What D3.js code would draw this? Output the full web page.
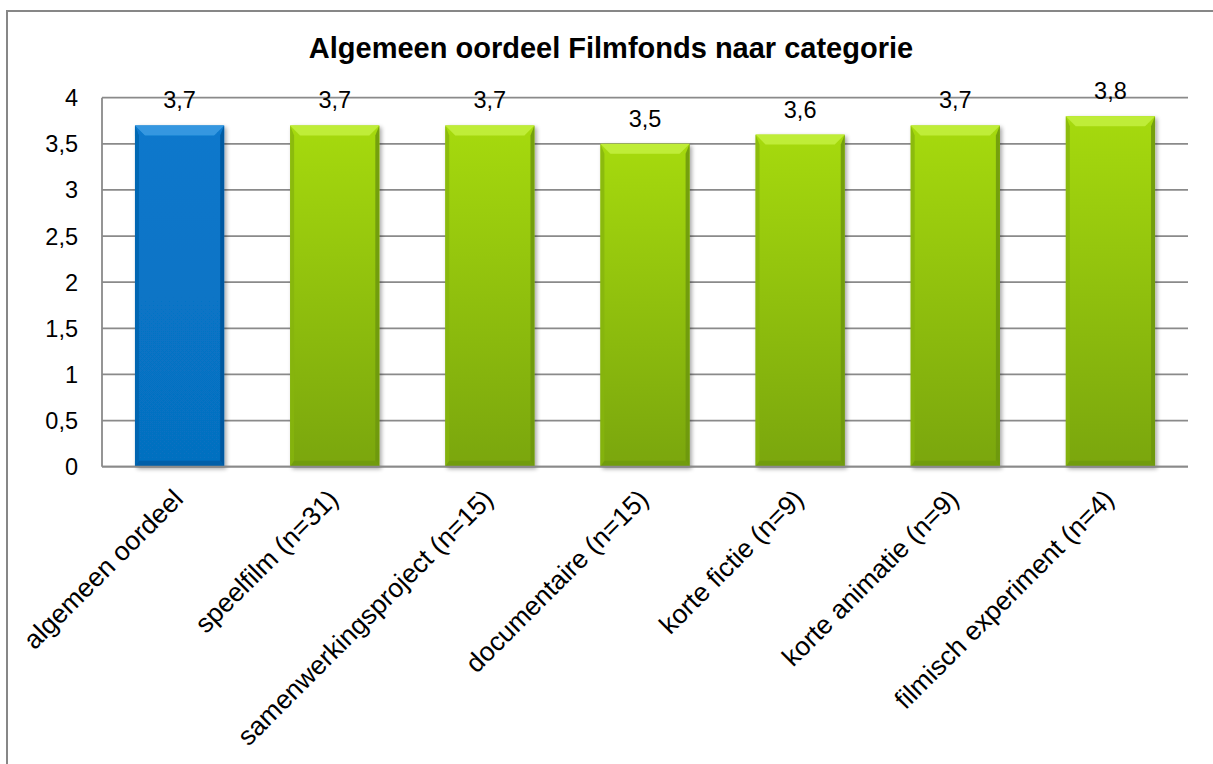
<!DOCTYPE html>
<html>
<head>
<meta charset="utf-8">
<script src="https://cdn.jsdelivr.net/npm/d3@7"></script>
<style>
  html, body { margin: 0; padding: 0; background: #fff; }
  svg { display: block; font-family: Arial, "Liberation Sans", sans-serif; }
</style>
</head>
<body>
<svg id="chart" width="1213" height="764"></svg>
<script>
const title = "Algemeen oordeel Filmfonds naar categorie";
const categories = [
  "algemeen oordeel",
  "speelfilm (n=31)",
  "samenwerkingsproject (n=15)",
  "documentaire (n=15)",
  "korte fictie (n=9)",
  "korte animatie (n=9)",
  "filmisch experiment (n=4)"
];
const values = [3.7, 3.7, 3.7, 3.5, 3.6, 3.7, 3.8];
const yTicks = [0, 0.5, 1, 1.5, 2, 2.5, 3, 3.5, 4];

const svg = d3.select("#chart");
const plot = { left: 102, right: 1188, top: 97.7, bottom: 466.7 };

// outer border
svg.append("rect").attr("x", 7).attr("y", 11).attr("width", 1300).attr("height", 900)
  .attr("fill", "#fff").attr("stroke", "#878787").attr("stroke-width", 2);

const defs = svg.append("defs");
function grad(id, top, bottom) {
  const g = defs.append("linearGradient").attr("id", id).attr("x1", 0).attr("y1", 0).attr("x2", 0).attr("y2", 1);
  g.append("stop").attr("offset", "0%").attr("stop-color", top);
  g.append("stop").attr("offset", "100%").attr("stop-color", bottom);
}
grad("gBlue", "#0878cc", "#0670c0");
grad("gGreen", "#a6da10", "#7aa60c");
const f = defs.append("filter").attr("id", "shadow").attr("x", "-20%").attr("y", "-10%").attr("width", "140%").attr("height", "120%");
f.append("feGaussianBlur").attr("in", "SourceAlpha").attr("stdDeviation", 2);
f.append("feOffset").attr("dx", 2).attr("dy", 2).attr("result", "b");
const ct = f.append("feComponentTransfer"); ct.append("feFuncA").attr("type", "linear").attr("slope", 0.35);
const fm = f.append("feMerge"); fm.append("feMergeNode"); fm.append("feMergeNode").attr("in", "SourceGraphic");

const x = d3.scaleBand().domain(categories).range([plot.left, plot.right]).paddingInner(0.425).paddingOuter(0.2125);
const y = d3.scaleLinear().domain([0, 4]).range([plot.bottom, plot.top]);

// gridlines
svg.append("g").selectAll("line").data(yTicks).join("line")
  .attr("x1", plot.left).attr("x2", plot.right)
  .attr("y1", d => y(d)).attr("y2", d => y(d))
  .attr("stroke", "#8a8a8a").attr("stroke-width", 1.8);

// y axis line
svg.append("line").attr("x1", plot.left).attr("x2", plot.left).attr("y1", plot.top).attr("y2", plot.bottom)
  .attr("stroke", "#8a8a8a").attr("stroke-width", 1.8);

// y tick labels
const fmt = d => String(d).replace(".", ",");
svg.append("g").selectAll("text").data(yTicks).join("text")
  .attr("x", 78).attr("y", d => y(d)).attr("dy", "0.36em")
  .attr("text-anchor", "end").attr("font-size", 23.5).attr("fill", "#000")
  .text(fmt);

// bars
const bars = svg.append("g").selectAll("g").data(categories).join("g").attr("filter", "url(#shadow)");
bars.each(function(c, i) {
  const g = d3.select(this);
  const bx = x(c), bw = x.bandwidth(), by = y(values[i]), bh = y(0) - y(values[i]);
  const blue = i === 0;
  const b = 10;
  g.append("rect").attr("x", bx).attr("y", by).attr("width", bw).attr("height", bh)
    .attr("fill", blue ? "url(#gBlue)" : "url(#gGreen)");
  g.append("polygon").attr("points", [[bx, by], [bx + bw, by], [bx + bw - b, by + b], [bx + b, by + b]].join(" "))
    .attr("fill", blue ? "#3a9ae2" : "#c2ee3c").attr("opacity", 0.9);
  g.append("polygon").attr("points", [[bx, by], [bx + b * 0.4, by + b], [bx + b * 0.4, by + bh - b * 0.6], [bx, by + bh]].join(" "))
    .attr("fill", blue ? "#0563ad" : "#86b40e").attr("opacity", 0.8);
  g.append("polygon").attr("points", [[bx + bw, by], [bx + bw - b * 0.4, by + b], [bx + bw - b * 0.4, by + bh - b * 0.6], [bx + bw, by + bh]].join(" "))
    .attr("fill", blue ? "#04559a" : "#6c960a").attr("opacity", 0.85);
  g.append("polygon").attr("points", [[bx, by + bh], [bx + b * 0.4, by + bh - b * 0.6], [bx + bw - b * 0.4, by + bh - b * 0.6], [bx + bw, by + bh]].join(" "))
    .attr("fill", blue ? "#055aa2" : "#6f9a0a").attr("opacity", 0.8);
});

// bottom axis line over bars
svg.append("line").attr("x1", plot.left).attr("x2", plot.right).attr("y1", plot.bottom).attr("y2", plot.bottom)
  .attr("stroke", "#8a8a8a").attr("stroke-width", 1.8);

// value labels
svg.append("g").selectAll("text").data(categories).join("text")
  .attr("x", c => x(c) + x.bandwidth() / 2)
  .attr("y", (c, i) => y(values[i]) - 17)
  .attr("text-anchor", "middle").attr("font-size", 23.5).attr("fill", "#000")
  .text((c, i) => fmt(values[i]));

// x labels rotated
svg.append("g").selectAll("text").data(categories).join("text")
  .attr("transform", c => `translate(${x(c) + x.bandwidth() / 2 + 5},${plot.bottom + 34}) rotate(-45)`)
  .attr("text-anchor", "end").attr("font-size", 26.5).attr("fill", "#000")
  .text(c => c);

// title
svg.append("text").attr("x", 611).attr("y", 58).attr("text-anchor", "middle")
  .attr("font-size", 29).attr("font-weight", "bold").attr("fill", "#000").text(title);
</script>
</body>
</html>
